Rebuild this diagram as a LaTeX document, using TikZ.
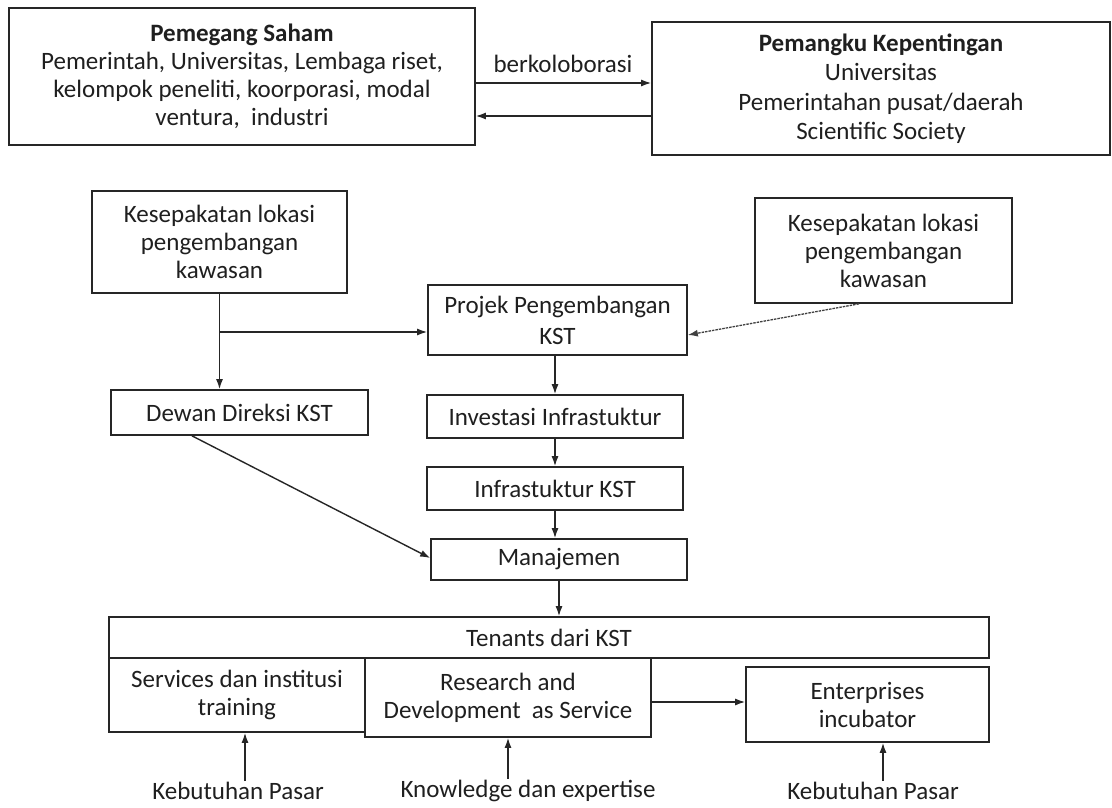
\documentclass[tikz,border=0pt]{standalone}
\usepackage{fontspec}
\setmainfont{Carlito}
\usetikzlibrary{arrows.meta}
\begin{document}
\begin{tikzpicture}[x=1pt,y=-1pt,
  every node/.style={font=\fontsize{25}{28}\selectfont, text=black!88},
  box/.style={draw=black!85, line width=1.7pt, align=center, inner sep=0pt},
  arr/.style={draw=black!85, line width=1.4pt, -{Latex[length=10pt,width=7pt]}},
  lbl/.style={inner sep=1pt}]
\useasboundingbox[fill=white] (0,0) rectangle (1112,808);
% top row
\node[box, minimum width=466pt, minimum height=137pt] (ps) at (242,76.5)
  {\textbf{Pemegang Saham}\\Pemerintah, Universitas, Lembaga riset,\\kelompok peneliti, koorporasi, modal\\ventura,\ \ industri};
\node[box, minimum width=458pt, minimum height=133pt, font=\fontsize{25}{29.5}\selectfont] (pk) at (881,88.5)
  {\textbf{Pemangku Kepentingan}\\Universitas\\Pemerintahan pusat/daerah\\Scientific Society};
\node[lbl] (kol) at (563,64) {berkoloborasi};
\draw[arr] (ps.east |- 0,83) -- (pk.west |- 0,83);
\draw[arr] (pk.west |- 0,116) -- (ps.east |- 0,116);
% middle
\node[box, minimum width=255pt, minimum height=102pt] (kesL) at (219.5,242)
  {Kesepakatan lokasi\\pengembangan\\kawasan};
\node[box, minimum width=257pt, minimum height=105pt] (kesR) at (883.5,250.5)
  {Kesepakatan lokasi\\pengembangan\\kawasan};
\node[box, minimum width=259pt, minimum height=70pt, font=\fontsize{25}{31}\selectfont] (proj) at (557.5,320)
  {Projek Pengembangan\\KST};
\node[box, minimum width=257pt, minimum height=45pt] (dewan) at (239.5,412.5)
  {Dewan Direksi KST};
\node[box, minimum width=256pt, minimum height=43pt] (inv) at (555,416.5)
  {Investasi Infrastuktur};
\node[box, minimum width=256pt, minimum height=43pt] (infra) at (555,488.5)
  {Infrastuktur KST};
\node[box, minimum width=256pt, minimum height=41pt] (man) at (559,559.5)
  {Manajemen};
\coordinate (br) at (kesL.south |- 0,332);
\draw[arr] (kesL.south) -- (kesL.south |- dewan.north);
\draw[arr] (br) -- (proj.west |- br);
\draw[arr, draw=black!75, line width=1.3pt, dash pattern=on 2.5pt off 1pt] (kesR.south -| 859,0) -- (proj.east |- 0,335);
\draw[arr] (proj.south -| inv.north) -- (inv.north);
\draw[arr] (inv.south) -- (infra.north);
\draw[arr] (infra.south) -- (infra.south |- man.north);
\draw[arr] (dewan.south -| 192,0) -- (man.west |- 0,558);
% bottom
\node[box, minimum width=880pt, minimum height=41pt] (ten) at (549,637.5)
  {Tenants dari KST};
\node[box, minimum width=256pt, minimum height=74pt] (serv) at (237,695)
  {Services dan institusi\\training};
\node[box, minimum width=286pt, minimum height=79pt] (rnd) at (508,697.5)
  {Research and\\Development\ \ as Service};
\node[box, minimum width=243pt, minimum height=75pt] (ent) at (867.5,704.5)
  {Enterprises\\incubator};
\draw[arr] (man.south) -- (man.south |- ten.north);
\draw[arr] (rnd.east |- 0,702) -- (ent.west |- 0,702);
\node[lbl] (kp1) at (238,791) {Kebutuhan Pasar};
\node[lbl] (kde) at (528,791) {Knowledge dan expertise};
\node[lbl] (kp2) at (873,791) {Kebutuhan Pasar};
\draw[arr] (kp1.north -| 245,0) -- (serv.south -| 245,0);
\draw[arr] (kde.north -| 508,0) -- (rnd.south -| 508,0);
\draw[arr] (kp2.north -| 883,0) -- (ent.south -| 883,0);
\end{tikzpicture}
\end{document}
